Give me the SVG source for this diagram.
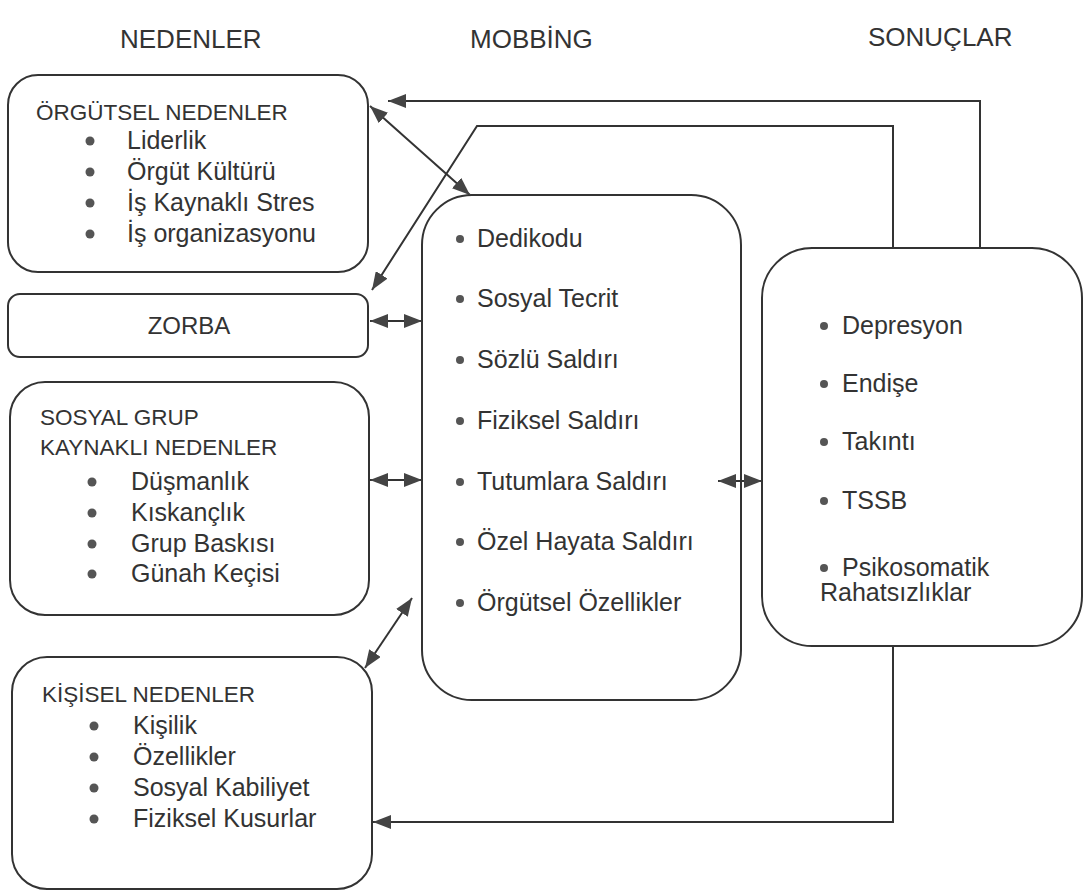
<svg xmlns="http://www.w3.org/2000/svg" width="1084" height="892" viewBox="0 0 1084 892">
<defs>
<style>
text{font-family:"Liberation Sans",Arial,sans-serif;fill:#333}
.h{font-size:26px}
.t{font-size:22.5px}
.i{font-size:25px}
.box{fill:#fff;stroke:#333;stroke-width:2}
.b{fill:#555}
.c{fill:none;stroke:#333;stroke-width:2}
</style>
<marker id="ah" viewBox="0 0 18 14" refX="18" refY="7" markerWidth="18" markerHeight="14" markerUnits="userSpaceOnUse" orient="auto-start-reverse">
<path d="M0,0 L18,7 L0,14 z" fill="#444"/>
</marker>
</defs>
<rect width="1084" height="892" fill="#fff"/>
<g id="headers">
<text class="h" x="120" y="48">NEDENLER</text>
<text class="h" x="470" y="48">MOBBİNG</text>
<text class="h" x="868" y="46">SONUÇLAR</text>
</g>
<g id="orgutsel">
<rect class="box" x="8" y="75" width="360" height="197" rx="30"/>
<text class="t" x="36" y="120">ÖRGÜTSEL NEDENLER</text>
<circle class="b" cx="90" cy="141" r="4.5"/><text class="i" x="127" y="149">Liderlik</text>
<circle class="b" cx="90" cy="172" r="4.5"/><text class="i" x="127" y="180">Örgüt Kültürü</text>
<circle class="b" cx="90" cy="203" r="4.5"/><text class="i" x="127" y="211">İş Kaynaklı Stres</text>
<circle class="b" cx="90" cy="234" r="4.5"/><text class="i" x="127" y="242">İş organizasyonu</text>
</g>
<g id="zorba">
<rect class="box" x="8" y="294" width="360" height="63" rx="12"/>
<text class="t" x="189" y="334" text-anchor="middle" style="font-size:24px">ZORBA</text>
</g>
<g id="sosyal">
<rect class="box" x="10" y="382" width="359" height="233" rx="35"/>
<text class="t" x="40" y="425">SOSYAL GRUP</text>
<text class="t" x="40" y="455">KAYNAKLI NEDENLER</text>
<circle class="b" cx="92" cy="482" r="4.5"/><text class="i" x="131" y="490">Düşmanlık</text>
<circle class="b" cx="92" cy="513" r="4.5"/><text class="i" x="131" y="521">Kıskançlık</text>
<circle class="b" cx="92" cy="544" r="4.5"/><text class="i" x="131" y="552">Grup Baskısı</text>
<circle class="b" cx="92" cy="574" r="4.5"/><text class="i" x="131" y="582">Günah Keçisi</text>
</g>
<g id="kisisel">
<rect class="box" x="12" y="657" width="360" height="232" rx="35"/>
<text class="t" x="42" y="702">KİŞİSEL NEDENLER</text>
<circle class="b" cx="94" cy="726" r="4.5"/><text class="i" x="133" y="734">Kişilik</text>
<circle class="b" cx="94" cy="757" r="4.5"/><text class="i" x="133" y="765">Özellikler</text>
<circle class="b" cx="94" cy="788" r="4.5"/><text class="i" x="133" y="796">Sosyal Kabiliyet</text>
<circle class="b" cx="94" cy="819" r="4.5"/><text class="i" x="133" y="827">Fiziksel Kusurlar</text>
</g>
<g id="mobbing">
<rect class="box" x="422" y="195" width="319" height="505" rx="50"/>
<circle class="b" cx="460" cy="239" r="4"/><text class="i" x="477" y="247">Dedikodu</text>
<circle class="b" cx="460" cy="299" r="4"/><text class="i" x="477" y="307">Sosyal Tecrit</text>
<circle class="b" cx="460" cy="360" r="4"/><text class="i" x="477" y="368">Sözlü Saldırı</text>
<circle class="b" cx="460" cy="421" r="4"/><text class="i" x="477" y="429">Fiziksel Saldırı</text>
<circle class="b" cx="460" cy="482" r="4"/><text class="i" x="477" y="490">Tutumlara Saldırı</text>
<circle class="b" cx="460" cy="542" r="4"/><text class="i" x="477" y="550">Özel Hayata Saldırı</text>
<circle class="b" cx="460" cy="603" r="4"/><text class="i" x="477" y="611">Örgütsel Özellikler</text>
</g>
<g id="sonuclar">
<rect class="box" x="762" y="248" width="320" height="398" rx="50"/>
<circle class="b" cx="824" cy="326" r="4"/><text class="i" x="842" y="334">Depresyon</text>
<circle class="b" cx="824" cy="384" r="4"/><text class="i" x="842" y="392">Endişe</text>
<circle class="b" cx="824" cy="442" r="4"/><text class="i" x="842" y="450">Takıntı</text>
<circle class="b" cx="824" cy="501" r="4"/><text class="i" x="842" y="509">TSSB</text>
<circle class="b" cx="824" cy="568" r="4"/><text class="i" x="842" y="576">Psikosomatik</text>
<text class="i" x="820" y="601">Rahatsızlıklar</text>
</g>
<g id="connectors">
<path class="c" d="M980 248 V101 H388" marker-end="url(#ah)"/>
<path class="c" d="M893 248 V126 H477 L372 290" marker-end="url(#ah)"/>
<path class="c" d="M370 106 L470 195" marker-start="url(#ah)" marker-end="url(#ah)"/>
<path class="c" d="M370 321 H422" marker-start="url(#ah)" marker-end="url(#ah)"/>
<path class="c" d="M370 480 H422" marker-start="url(#ah)" marker-end="url(#ah)"/>
<path class="c" d="M412 598 L365 668" marker-start="url(#ah)" marker-end="url(#ah)"/>
<path class="c" d="M718 481 H762" marker-start="url(#ah)" marker-end="url(#ah)"/>
<path class="c" d="M893 646 V822 H373" marker-end="url(#ah)"/>
</g>
</svg>
